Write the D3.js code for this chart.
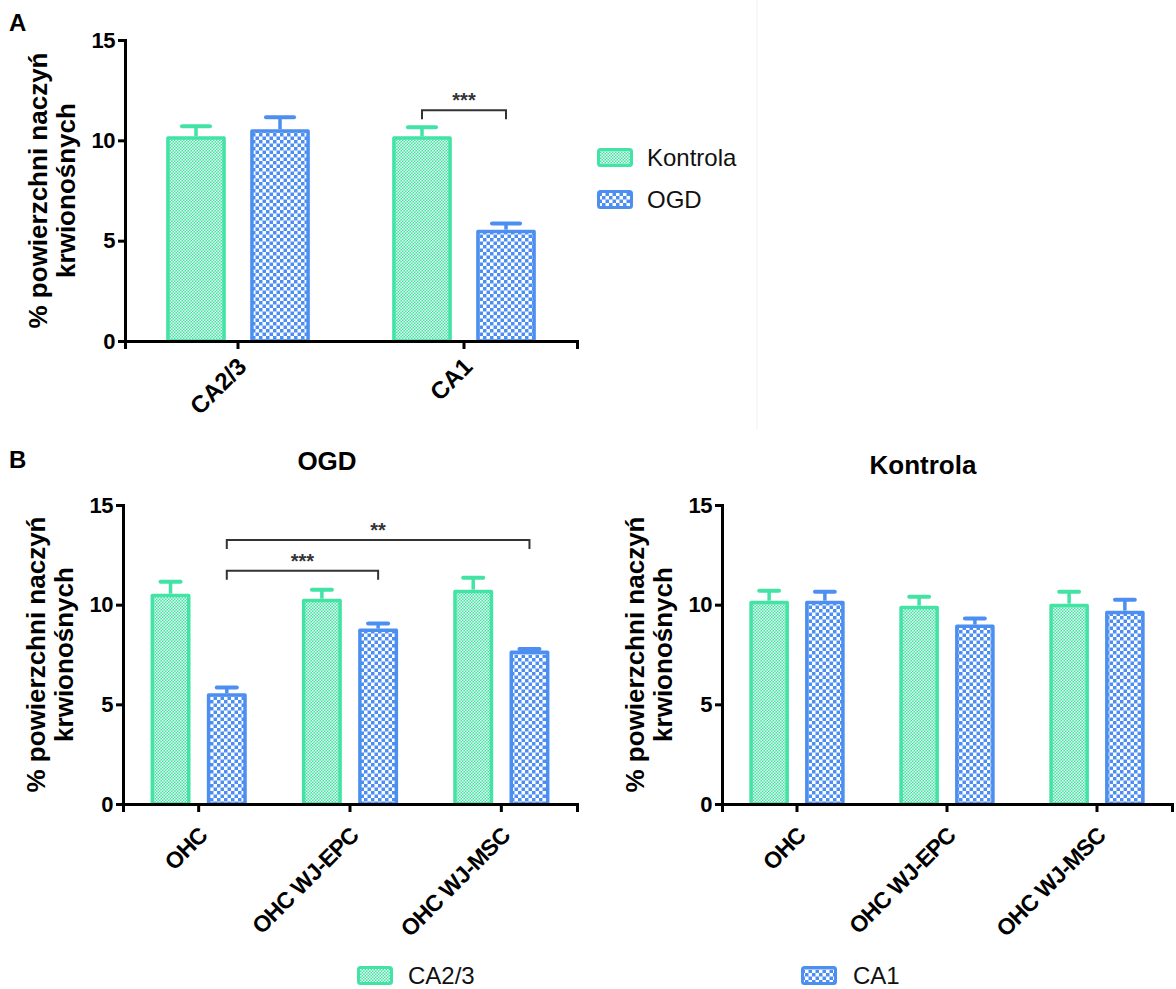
<!DOCTYPE html>
<html>
<head>
<meta charset="utf-8">
<script src="https://cdn.jsdelivr.net/npm/d3@7/dist/d3.min.js"></script>
<style>
  html, body { margin: 0; padding: 0; background: #fff; }
  svg { display: block; font-family: "Liberation Sans", Arial, sans-serif; }
</style>
</head>
<body>
<svg id="chart" width="1176" height="989"></svg>
<script>
// ---------------- DATA ----------------
const yTicks = [0, 5, 10, 15];
const yAxisTitle = ["% powierzchni naczyń", "krwionośnych"];

// Panel A
const aCategories = ["CA2/3", "CA1"];
const aSeries = ["Kontrola", "OGD"];
const aKontrola = [10.2, 10.2];
const aKontrolaErr = [0.5, 0.45];
const aOGD = [10.55, 5.55];
const aOGDErr = [0.6, 0.3];

// Panel B
const bCategories = ["OHC", "OHC WJ-EPC", "OHC WJ-MSC"];
const bSeries = ["CA2/3", "CA1"];
const bOgdCA23 = [10.55, 10.3, 10.75];
const bOgdCA23Err = [0.6, 0.45, 0.6];
const bOgdCA1 = [5.55, 8.8, 7.7];
const bOgdCA1Err = [0.3, 0.25, 0.08];
const bKonCA23 = [10.2, 9.95, 10.05];
const bKonCA23Err = [0.5, 0.45, 0.6];
const bKonCA1 = [10.2, 9.0, 9.7];
const bKonCA1Err = [0.45, 0.3, 0.55];

// significance brackets
const aSig = [{ c1: "CA1", s1: "Kontrola", c2: "CA1", s2: "OGD", y: 11.5, label: "***" }];
const bOgdSig = [
  { c1: "OHC", s1: "CA1", c2: "OHC WJ-EPC", s2: "CA1", y: 11.7, label: "***" },
  { c1: "OHC", s1: "CA1", c2: "OHC WJ-MSC", s2: "CA1", y: 13.25, label: "**" }
];

// ---------------- STYLE ----------------
const GREEN = "#43e3a5";
const BLUE = "#4d8ff0";
const FONT = '"Liberation Sans", Arial, sans-serif';

const svg = d3.select("#chart");
const defs = svg.append("defs");

// fine green checker
const pg = defs.append("pattern").attr("id", "pGreen")
  .attr("patternUnits", "userSpaceOnUse").attr("width", 3).attr("height", 3);
pg.append("rect").attr("width", 3).attr("height", 3).attr("fill", GREEN);
pg.append("rect").attr("x", 0).attr("y", 0).attr("width", 1.5).attr("height", 1.5).attr("fill", "#eafcf4");
pg.append("rect").attr("x", 1.5).attr("y", 1.5).attr("width", 1.5).attr("height", 1.5).attr("fill", "#eafcf4");

// coarser blue checker
const pb = defs.append("pattern").attr("id", "pBlue")
  .attr("patternUnits", "userSpaceOnUse").attr("width", 7).attr("height", 7);
pb.append("rect").attr("width", 7).attr("height", 7).attr("fill", "#fff");
pb.append("rect").attr("x", 0).attr("y", 0).attr("width", 3.5).attr("height", 3.5).attr("fill", BLUE);
pb.append("rect").attr("x", 3.5).attr("y", 3.5).attr("width", 3.5).attr("height", 3.5).attr("fill", BLUE);

// faint separator seen in reference
svg.append("line").attr("x1", 757).attr("x2", 757).attr("y1", 0).attr("y2", 430)
  .attr("stroke", "#f1f1f1").attr("stroke-width", 1);

function drawPanel(o) {
  const g = svg.append("g");
  const x = d3.scaleBand().domain(o.categories).range([o.x0, o.x1]).paddingInner(0).paddingOuter(0);
  const xs = d3.scaleBand().domain(o.series).range([0, x.bandwidth()]).paddingInner(0.29).paddingOuter(0.49);
  const y = d3.scaleLinear().domain([0, 15]).range([o.yBottom, o.yTop]);
  const sw = o.strokeW;
  const barW = xs.bandwidth() - sw;

  const rows = [];
  o.series.forEach((s, si) => {
    o.categories.forEach((c, ci) => {
      rows.push({ s, c, v: o.values[si][ci], e: o.errors[si][ci], color: o.colors[si], pat: o.patterns[si] });
    });
  });
  const cx = d => x(d.c) + xs(d.s) + xs.bandwidth() / 2;

  // error bars (behind the bars)
  const eb = g.append("g").selectAll("g").data(rows).join("g");
  eb.append("line")
    .attr("x1", cx).attr("x2", cx)
    .attr("y1", d => y(d.v)).attr("y2", d => y(d.v + d.e))
    .attr("stroke", d => d.color).attr("stroke-width", 3.5);
  eb.append("line")
    .attr("x1", d => cx(d) - barW * o.capFrac / 2).attr("x2", d => cx(d) + barW * o.capFrac / 2)
    .attr("y1", d => y(d.v + d.e)).attr("y2", d => y(d.v + d.e))
    .attr("stroke", d => d.color).attr("stroke-width", 4).attr("stroke-linecap", "round");

  // bars
  g.append("g").selectAll("rect").data(rows).join("rect")
    .attr("x", d => cx(d) - barW / 2)
    .attr("y", d => y(d.v) + sw / 2)
    .attr("width", barW)
    .attr("height", d => y(0) - y(d.v) - sw / 2)
    .attr("fill", d => `url(#${d.pat})`)
    .attr("stroke", d => d.color)
    .attr("stroke-width", sw)
    .attr("stroke-linejoin", "round");

  // y axis
  const ya = g.append("g").attr("transform", `translate(${o.x0},0)`)
    .call(d3.axisLeft(y).tickValues(yTicks).tickSize(7).tickPadding(3).tickFormat(d3.format("d")));
  ya.select(".domain").attr("stroke", "#000").attr("stroke-width", 3);
  ya.selectAll(".tick line").attr("stroke", "#000").attr("stroke-width", 3);
  ya.selectAll(".tick text").attr("font-family", FONT).attr("font-weight", "bold")
    .attr("font-size", 22).attr("fill", "#000").attr("letter-spacing", -0.5);

  // x axis
  const xa = g.append("g").attr("transform", `translate(0,${o.yBottom})`)
    .call(d3.axisBottom(x).tickSizeOuter(0).tickSize(8));
  xa.select(".domain").attr("stroke", "#000").attr("stroke-width", 3);
  xa.selectAll(".tick line").attr("stroke", "#000").attr("stroke-width", 3);
  xa.selectAll(".tick text")
    .attr("font-family", FONT).attr("font-weight", "bold").attr("font-size", o.xLabelSize)
    .attr("fill", "#000").attr("text-anchor", "end").attr("letter-spacing", o.xLabelSpacing)
    .attr("x", 0).attr("y", 0).attr("dy", 0)
    .attr("transform", `translate(${o.labelDx},${o.labelDy}) rotate(-45)`);

  // y axis title
  const midY = (o.yTop + o.yBottom) / 2;
  const tt = g.append("text")
    .attr("transform", `translate(${o.titleX},${midY}) rotate(-90)`)
    .attr("font-family", FONT).attr("font-weight", "bold").attr("font-size", 26)
    .attr("text-anchor", "middle").attr("fill", "#000");
  tt.append("tspan").attr("x", 0).attr("y", 0).text(yAxisTitle[0]);
  tt.append("tspan").attr("x", 0).attr("y", 28).text(yAxisTitle[1]);

  // significance brackets
  (o.sig || []).forEach(sg => {
    const xA = x(sg.c1) + xs(sg.s1) + xs.bandwidth() / 2;
    const xB = x(sg.c2) + xs(sg.s2) + xs.bandwidth() / 2;
    const yy = y(sg.y);
    g.append("path")
      .attr("d", `M${xA},${yy + 9}V${yy}H${xB}V${yy + 9}`)
      .attr("fill", "none").attr("stroke", "#333").attr("stroke-width", 2);
    g.append("text").attr("x", (xA + xB) / 2).attr("y", yy - 3)
      .attr("text-anchor", "middle").attr("font-family", FONT).attr("font-weight", "bold")
      .attr("font-size", 20).attr("fill", "#333").text(sg.label);
  });

  // panel title
  if (o.title) {
    g.append("text").attr("x", o.titleCx).attr("y", o.titleY)
      .attr("text-anchor", "middle").attr("font-family", FONT).attr("font-weight", "bold")
      .attr("font-size", 26).attr("fill", "#000").text(o.title);
  }
}

// Panel A
drawPanel({
  x0: 125, x1: 577, yTop: 40, yBottom: 341,
  categories: aCategories, series: aSeries,
  values: [aKontrola, aOGD], errors: [aKontrolaErr, aOGDErr],
  colors: [GREEN, BLUE], patterns: ["pGreen", "pBlue"],
  strokeW: 3.5, capFrac: 0.5, xLabelSize: 24, xLabelSpacing: 0, labelDx: 10, labelDy: 27,
  titleX: 47, sig: aSig
});

// Panel B left (OGD)
drawPanel({
  x0: 123, x1: 577, yTop: 505, yBottom: 804,
  categories: bCategories, series: bSeries,
  values: [bOgdCA23, bOgdCA1], errors: [bOgdCA23Err, bOgdCA1Err],
  colors: [GREEN, BLUE], patterns: ["pGreen", "pBlue"],
  strokeW: 3.5, capFrac: 0.55, xLabelSize: 23, xLabelSpacing: -0.8, labelDx: 10, labelDy: 33,
  titleX: 45, sig: bOgdSig, title: "OGD", titleCx: 327, titleY: 470
});

// Panel B right (Kontrola)
drawPanel({
  x0: 722, x1: 1172, yTop: 505, yBottom: 804,
  categories: bCategories, series: bSeries,
  values: [bKonCA23, bKonCA1], errors: [bKonCA23Err, bKonCA1Err],
  colors: [GREEN, BLUE], patterns: ["pGreen", "pBlue"],
  strokeW: 3.5, capFrac: 0.55, xLabelSize: 23, xLabelSpacing: -0.8, labelDx: 10, labelDy: 33,
  titleX: 644, title: "Kontrola", titleCx: 923, titleY: 474
});

// Panel letters
svg.append("text").attr("x", 9).attr("y", 31).attr("font-family", FONT).attr("font-weight", "bold")
  .attr("font-size", 24).attr("fill", "#000").text("A");
svg.append("text").attr("x", 9).attr("y", 468).attr("font-family", FONT).attr("font-weight", "bold")
  .attr("font-size", 24).attr("fill", "#000").text("B");

// Legend A
const legA = [
  { label: aSeries[0], color: GREEN, pat: "pGreen", x: 597, y: 148, tx: 647, ty: 166 },
  { label: aSeries[1], color: BLUE, pat: "pBlue", x: 597, y: 190, tx: 647, ty: 208 }
];
// Legend B (bottom)
const legB = [
  { label: bSeries[0], color: GREEN, pat: "pGreen", x: 357, y: 966, tx: 408, ty: 984 },
  { label: bSeries[1], color: BLUE, pat: "pBlue", x: 801, y: 966, tx: 853, ty: 984 }
];
[...legA, ...legB].forEach(l => {
  svg.append("rect").attr("x", l.x + 1.5).attr("y", l.y + 1.5).attr("width", 33).attr("height", 16)
    .attr("rx", 2).attr("fill", `url(#${l.pat})`).attr("stroke", l.color).attr("stroke-width", 3);
  svg.append("text").attr("x", l.tx).attr("y", l.ty).attr("font-family", FONT)
    .attr("font-size", 24).attr("fill", "#111").text(l.label);
});
</script>
</body>
</html>
